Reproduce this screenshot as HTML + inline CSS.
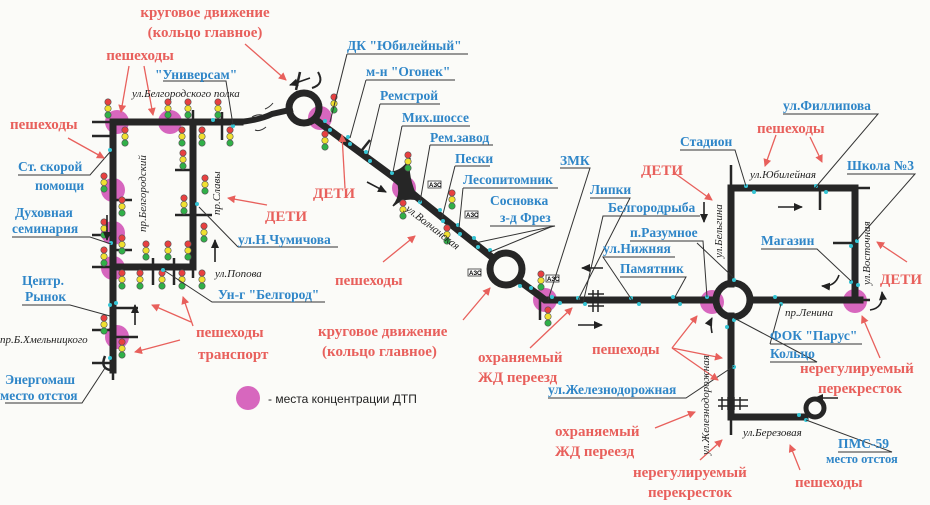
<!DOCTYPE html>
<html><head><meta charset="utf-8"><style>
html,body{margin:0;padding:0;background:#fbfbf8;}
svg{display:block;}
.r{font-family:"Liberation Serif",serif;font-weight:bold;font-size:15px;fill:#e8605c;}
.b{font-family:"Liberation Serif",serif;font-weight:bold;font-size:13.5px;fill:#2f86c8;}
.i{font-family:"Liberation Serif",serif;font-style:italic;font-size:11px;fill:#222;}
.rd{stroke:#262626;stroke-width:7;fill:none;stroke-linecap:square;}
.sd{stroke:#262626;stroke-width:2.5;fill:none;}
.ln{stroke:#333;stroke-width:1;fill:none;}
.ra{stroke:#e8605c;stroke-width:1.3;fill:none;marker-end:url(#ah);}
.ba{stroke:#222;stroke-width:1.6;fill:none;marker-end:url(#bh);}
.p{fill:#d04cb4;opacity:.85;}
.c{fill:#35c4d4;}
</style></head><body>
<svg width="930" height="505" viewBox="0 0 930 505" xmlns="http://www.w3.org/2000/svg">
<defs>
<marker id="ah" markerWidth="8" markerHeight="8" refX="7" refY="4" orient="auto" markerUnits="userSpaceOnUse"><path d="M0,0 L8,4 L0,8 z" fill="#e8605c"/></marker>
<marker id="bh" markerWidth="9" markerHeight="8" refX="8" refY="4" orient="auto" markerUnits="userSpaceOnUse"><path d="M0,0 L9,4 L0,8 z" fill="#222"/></marker>
<g id="tl"><circle cx="0" cy="0" r="3.2" fill="#e84040" stroke="#555" stroke-width=".6"/><circle cx="0" cy="6.5" r="3.2" fill="#f0e030" stroke="#555" stroke-width=".6"/><circle cx="0" cy="13" r="3.2" fill="#30b048" stroke="#555" stroke-width=".6"/></g>
</defs>

<!-- pink hotspots -->
<g class="p">
<circle cx="117" cy="122" r="12"/><circle cx="170" cy="122" r="12"/><circle cx="113" cy="190" r="12"/><circle cx="113" cy="233" r="12"/><circle cx="113" cy="268" r="12"/><circle cx="117" cy="337" r="12"/>
<circle cx="320" cy="118" r="12"/><circle cx="404" cy="188" r="12"/><circle cx="545" cy="300" r="12"/><circle cx="712" cy="302" r="12"/><circle cx="855" cy="301" r="12"/>
<circle cx="248" cy="398" r="12"/>
</g>

<!-- roads -->
<g class="rd">
<path d="M113 122 H240"/>
<path d="M113 122 V370"/>
<path d="M193 122 V267 H113"/>
<path d="M240 122 Q260 120 272 114 L290 110" stroke-width="6"/>
<path d="M316 120 L392 176 L418 198 L493 258"/>
<path d="M518 280 L540 296 L545 300 H716"/>
<path d="M750 300 H860"/>
<path d="M731 284 V188 H855 V300"/>
<path d="M731 316 V417 H805"/>
</g>
<circle cx="304" cy="108" r="15" fill="none" stroke="#262626" stroke-width="7"/>
<circle cx="506" cy="269" r="16" fill="none" stroke="#262626" stroke-width="7"/>
<circle cx="733" cy="300" r="17" fill="none" stroke="#262626" stroke-width="7"/>
<circle cx="815" cy="408" r="9" fill="none" stroke="#262626" stroke-width="5"/>
<path d="M105 356 q-5 12 5 14" class="sd" stroke-width="4"/>

<!-- side streets -->
<g class="sd">
<path d="M92 122 H113"/><path d="M92 136 H113"/><path d="M92 235 H110"/><path d="M92 267 H113"/><path d="M92 330 H113"/><path d="M92 363 H113"/>
<path d="M113 308 H138"/><path d="M113 337 H138"/><path d="M113 200 H132"/><path d="M113 250 H132"/>
<path d="M175 170 H193"/><path d="M175 215 H193"/><path d="M193 215 H212"/><path d="M193 122 V110"/><path d="M222 112 V140"/>
<path d="M153 258 V285"/><path d="M174 258 V285"/><path d="M193 267 V278"/>
<path d="M113 370 V380"/>
<path d="M296 90 L300 72"/><path d="M312 88 Q325 84 318 72" stroke-width="2"/>
<path d="M362 150 L370 140"/>
<path d="M393 172 Q404 170 410 158 Q406 176 418 200 Q404 196 393 206 Q405 192 393 172" fill="#262626" stroke-width="1.5"/>
<path d="M540 296 V320"/>
<path d="M731 188 V165"/><path d="M855 188 H870"/><path d="M820 188 V210"/><path d="M833 243 H855"/><path d="M855 300 H870"/>
<path d="M731 417 V435"/>
<path d="M593 290 V312 M598 290 V312 M588 294 H604 M588 300 H604 M588 306 H604" stroke-width="1.5"/>
<path d="M718 400 H748 M718 406 H748 M722 397 V410 M728 397 V410 M734 397 V410 M740 397 V410" stroke-width="1.5"/>
</g>

<!-- traffic lights -->
<g>
<use href="#tl" x="108" y="102"/><use href="#tl" x="125" y="130"/><use href="#tl" x="168" y="102"/><use href="#tl" x="182" y="130"/>
<use href="#tl" x="188" y="102"/><use href="#tl" x="202" y="130"/><use href="#tl" x="218" y="102"/><use href="#tl" x="230" y="130"/>
<use href="#tl" x="183" y="153"/><use href="#tl" x="205" y="178"/><use href="#tl" x="184" y="198"/><use href="#tl" x="204" y="226"/>
<use href="#tl" x="104" y="176"/><use href="#tl" x="122" y="200"/><use href="#tl" x="104" y="222"/><use href="#tl" x="122" y="238"/>
<use href="#tl" x="104" y="250"/><use href="#tl" x="146" y="244"/><use href="#tl" x="168" y="244"/><use href="#tl" x="188" y="244"/>
<use href="#tl" x="122" y="273"/><use href="#tl" x="140" y="273"/><use href="#tl" x="162" y="273"/><use href="#tl" x="182" y="273"/><use href="#tl" x="202" y="273"/>
<use href="#tl" x="104" y="318"/><use href="#tl" x="122" y="342"/>
<use href="#tl" x="334" y="97"/><use href="#tl" x="325" y="134"/><use href="#tl" x="408" y="155"/><use href="#tl" x="403" y="203"/>
<use href="#tl" x="452" y="193"/><use href="#tl" x="447" y="228"/><use href="#tl" x="541" y="274"/><use href="#tl" x="548" y="310"/>
</g>
<g font-family="Liberation Sans,sans-serif" font-size="6" font-weight="bold">
<rect x="428" y="181" width="13" height="7" fill="#fff" stroke="#333" stroke-width=".8"/><text x="429" y="187">АЗС</text>
<rect x="465" y="211" width="13" height="7" fill="#fff" stroke="#333" stroke-width=".8"/><text x="466" y="217">АЗС</text>
<rect x="468" y="269" width="13" height="7" fill="#fff" stroke="#333" stroke-width=".8"/><text x="469" y="275">АЗС</text>
<rect x="546" y="275" width="13" height="7" fill="#fff" stroke="#333" stroke-width=".8"/><text x="547" y="281">АЗС</text>
</g>

<!-- cyan dots -->
<g class="c">
<circle cx="110" cy="150" r="2"/><circle cx="111" cy="243" r="2"/><circle cx="116" cy="303" r="2"/><circle cx="110" cy="305" r="2"/><circle cx="110" cy="358" r="2"/>
<circle cx="163" cy="270" r="2"/><circle cx="197" cy="204" r="2"/><circle cx="213" cy="120" r="2"/><circle cx="233" cy="126" r="2"/>
<circle cx="325" cy="121" r="2"/><circle cx="330" cy="130" r="2"/><circle cx="348" cy="137" r="2"/><circle cx="350" cy="144" r="2"/><circle cx="366" cy="152" r="2"/><circle cx="370" cy="161" r="2"/>
<circle cx="392" cy="173" r="2"/><circle cx="420" cy="202" r="2"/><circle cx="440" cy="210" r="2"/><circle cx="443" cy="221" r="2"/><circle cx="458" cy="225" r="2"/><circle cx="460" cy="234" r="2"/><circle cx="474" cy="238" r="2"/><circle cx="478" cy="247" r="2"/><circle cx="490" cy="250" r="2"/>
<circle cx="520" cy="286" r="2"/><circle cx="531" cy="288" r="2"/><circle cx="552" cy="297" r="2"/><circle cx="560" cy="303" r="2"/><circle cx="578" cy="298" r="2"/><circle cx="585" cy="304" r="2"/>
<circle cx="631" cy="298" r="2"/><circle cx="639" cy="304" r="2"/><circle cx="673" cy="297" r="2"/><circle cx="680" cy="304" r="2"/><circle cx="707" cy="297" r="2"/>
<circle cx="734" cy="280" r="2"/><circle cx="734" cy="320" r="2"/><circle cx="727" cy="327" r="2"/><circle cx="734" cy="367" r="2"/><circle cx="775" cy="297" r="2"/><circle cx="781" cy="304" r="2"/>
<circle cx="746" cy="186" r="2"/><circle cx="754" cy="192" r="2"/><circle cx="816" cy="186" r="2"/><circle cx="826" cy="192" r="2"/>
<circle cx="851" cy="246" r="2"/><circle cx="857" cy="241" r="2"/><circle cx="851" cy="282" r="2"/><circle cx="858" cy="285" r="2"/>
<circle cx="799" cy="415" r="2"/><circle cx="806" cy="420" r="2"/>
</g>

<!-- leader lines -->
<g class="ln">
<path d="M163 81 H226 L233 125"/>
<path d="M18 175 H90 L110 152"/>
<path d="M12 237 H90 L111 244"/>
<path d="M22 305 H70 L110 316"/>
<path d="M5 403 H82 L105 368"/>
<path d="M238 247 H338"/><path d="M238 247 L199 207"/>
<path d="M218 302 H325 L212 302 L165 271"/>
<path d="M347 54 H468"/><path d="M347 54 L330 122"/>
<path d="M366 80 H455 M366 80 L350 138"/>
<path d="M380 104 H440 M380 104 L368 154"/>
<path d="M402 126 H470 M402 126 L393 172"/>
<path d="M430 145 H493 M430 145 L420 202"/>
<path d="M455 166 H490 M455 166 L442 218"/>
<path d="M463 188 H558 M463 188 L459 228"/>
<path d="M490 226 H555 L475 243"/><path d="M553 226 L490 252"/>
<path d="M560 168 H590 L548 300"/>
<path d="M590 198 H630 L578 300"/>
<path d="M608 216 H700 L603 216 L583 303"/>
<path d="M630 241 H703 L707 297"/><path d="M697 243 L734 278"/>
<path d="M603 257 H675 L603 257 L632 300"/>
<path d="M620 277 H686 L675 297"/>
<path d="M680 150 H735 L746 186"/>
<path d="M783 114 H878 L815 188"/>
<path d="M847 174 H915 L857 240"/>
<path d="M761 249 H817 L851 281"/>
<path d="M770 344 H862 M770 344 L781 304"/>
<path d="M770 362 H817 L734 318"/>
<path d="M548 398 H686 L734 366"/>
<path d="M838 452 H892 L806 420"/>
</g>

<!-- red arrows -->
<g>
<path class="ra" d="M129 66 L121 112"/><path class="ra" d="M144 66 L153 115"/>
<path class="ra" d="M245 44 L286 80"/>
<path class="ra" d="M68 138 L104 158"/>
<path class="ra" d="M267 205 L228 198"/>
<path class="ra" d="M345 188 L342 135"/>
<path class="ra" d="M383 262 L415 236"/>
<path class="ra" d="M191 322 L152 305"/><path class="ra" d="M193 326 L183 297"/><path class="ra" d="M180 340 L135 352"/>
<path class="ra" d="M463 320 L490 288"/>
<path class="ra" d="M530 348 L572 308"/>
<path class="ra" d="M673 172 L712 200"/>
<path class="ra" d="M672 348 L697 316"/><path class="ra" d="M672 348 L722 358"/><path class="ra" d="M672 348 L718 380"/>
<path class="ra" d="M776 135 L765 166"/><path class="ra" d="M810 137 L822 162"/>
<path class="ra" d="M907 262 L877 242"/>
<path class="ra" d="M880 358 L862 316"/>
<path class="ra" d="M655 428 L695 412"/>
<path class="ra" d="M700 460 L722 440"/>
<path class="ra" d="M800 470 L790 445"/>
</g>

<!-- black arrows -->
<g>
<path class="ba" d="M310 78 L290 85"/>
<path class="ba" d="M107 215 V240"/><path class="ba" d="M135 325 V305"/><path class="ba" d="M215 262 V240"/>
<path class="ba" d="M367 182 L386 192"/>
<path class="ba" d="M603 268 H582"/><path class="ba" d="M578 325 H602"/>
<path class="ba" d="M704 202 V222"/>
<path class="ba" d="M778 207 H802"/>
<path class="ba" d="M838 398 H815"/>
<path class="ba" d="M839 275 Q835 287 822 286"/>
<path class="ba" d="M870 310 Q884 308 882 292"/>
<path class="ba" d="M712 333 Q710 322 712 318"/>
</g>
<g stroke="#333" stroke-width="1" fill="none">
<path d="M252 117 q5 -3 10 -2 M255 130 q5 2 11 -3 M265 109 q5 -2 8 -6"/>
</g>

<!-- red labels -->
<g class="r">
<text x="205" y="17" text-anchor="middle">круговое движение</text>
<text x="205" y="37" text-anchor="middle">(кольцо главное)</text>
<text x="140" y="60" text-anchor="middle">пешеходы</text>
<text x="10" y="129">пешеходы</text>
<text x="313" y="198">ДЕТИ</text>
<text x="265" y="221">ДЕТИ</text>
<text x="335" y="285">пешеходы</text>
<text x="196" y="337">пешеходы</text>
<text x="198" y="359">транспорт</text>
<text x="318" y="336">круговое движение</text>
<text x="322" y="356">(кольцо главное)</text>
<text x="478" y="362">охраняемый</text>
<text x="478" y="382">ЖД переезд</text>
<text x="641" y="175">ДЕТИ</text>
<text x="592" y="354">пешеходы</text>
<text x="757" y="133">пешеходы</text>
<text x="880" y="284">ДЕТИ</text>
<text x="800" y="373">нерегулируемый</text>
<text x="818" y="393">перекресток</text>
<text x="555" y="436">охраняемый</text>
<text x="555" y="456">ЖД переезд</text>
<text x="633" y="477">нерегулируемый</text>
<text x="648" y="497">перекресток</text>
<text x="795" y="487">пешеходы</text>
</g>

<!-- blue labels -->
<g class="b">
<text x="155" y="79">"Универсам"</text>
<text x="18" y="171">Ст. скорой</text><text x="35" y="190">помощи</text>
<text x="15" y="217">Духовная</text><text x="12" y="233">семинария</text>
<text x="22" y="285">Центр.</text><text x="25" y="301">Рынок</text>
<text x="5" y="384">Энергомаш</text><text x="0" y="400">место отстоя</text>
<text x="238" y="244">ул.Н.Чумичова</text>
<text x="218" y="299">Ун-г "Белгород"</text>
<text x="347" y="50">ДК "Юбилейный"</text>
<text x="366" y="76">м-н "Огонек"</text>
<text x="380" y="100">Ремстрой</text>
<text x="402" y="122">Мих.шоссе</text>
<text x="430" y="142">Рем.завод</text>
<text x="455" y="163">Пески</text>
<text x="463" y="184">Лесопитомник</text>
<text x="490" y="205">Сосновка</text>
<text x="500" y="222">з-д Фрез</text>
<text x="560" y="165">ЗМК</text>
<text x="590" y="194">Липки</text>
<text x="608" y="212">Белгородрыба</text>
<text x="630" y="237">п.Разумное</text>
<text x="603" y="253">ул.Нижняя</text>
<text x="620" y="273">Памятник</text>
<text x="680" y="146">Стадион</text>
<text x="783" y="110">ул.Филлипова</text>
<text x="847" y="170">Школа №3</text>
<text x="761" y="245">Магазин</text>
<text x="770" y="340">ФОК "Парус"</text>
<text x="770" y="358">Кольцо</text>
<text x="548" y="394">ул.Железнодорожная</text>
<text x="838" y="448">ПМС-59</text>
<text x="826" y="463" style="font-size:12.5px">место отстоя</text>
</g>

<!-- italic street names -->
<g class="i">
<text x="132" y="97">ул.Белгородского полка</text>
<text transform="translate(146,232) rotate(-90)">пр.Белгородский</text>
<text transform="translate(220,215) rotate(-90)">пр.Славы</text>
<text x="215" y="277">ул.Попова</text>
<text x="0" y="343">пр.Б.Хмельницкого</text>
<text transform="translate(405,210) rotate(38)">ул.Волчанская</text>
<text x="750" y="178">ул.Юбилейная</text>
<text transform="translate(722,258) rotate(-90)">ул.Бельгина</text>
<text transform="translate(870,285) rotate(-90)">ул.Восточная</text>
<text x="785" y="316">пр.Ленина</text>
<text transform="translate(709,455) rotate(-90)">ул.Железнодорожная</text>
<text x="743" y="436">ул.Березовая</text>
</g>
<text x="268" y="403" font-family="Liberation Sans,sans-serif" font-size="12" fill="#222">- места концентрации ДТП</text>
</svg>
</body></html>
